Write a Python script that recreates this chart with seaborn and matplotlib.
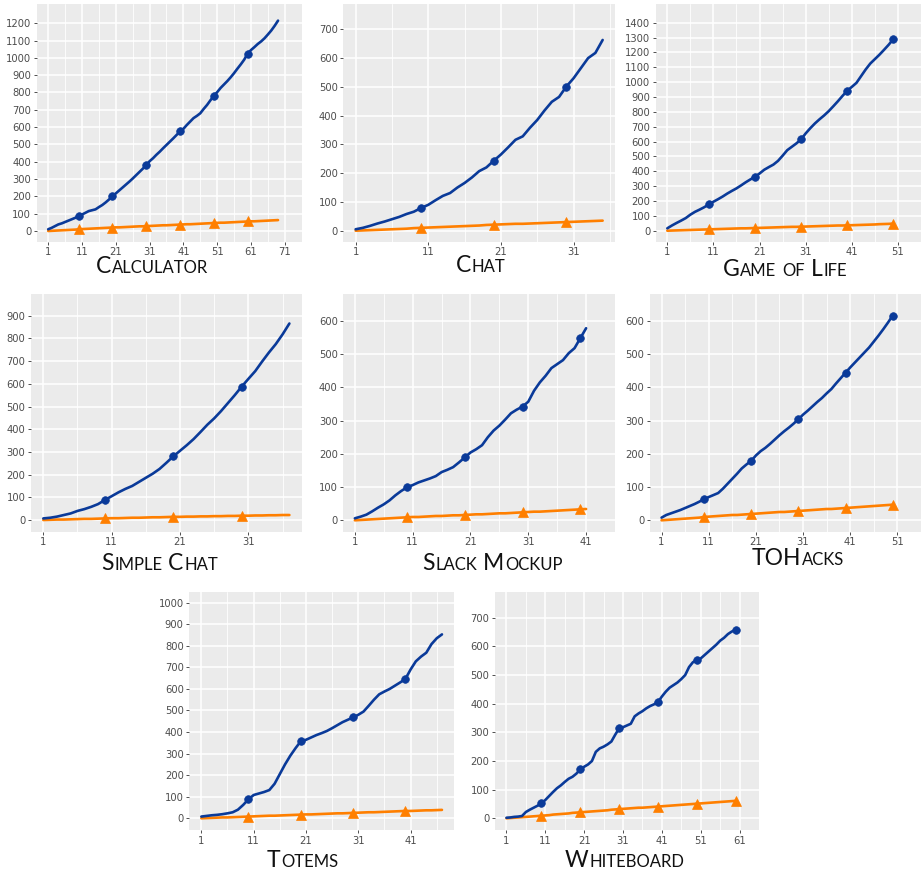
import matplotlib
matplotlib.use("Agg")
import matplotlib.pyplot as plt
import seaborn as sns
import pandas as pd

# ---- data: cumulative counts per step for each project ----
calc_blue = [10, 18, 28, 38, 44, 52, 60, 68, 76, 85,
             95, 105, 115, 120, 125, 138, 150, 165, 182, 200,
             217, 234, 251, 268, 285, 303, 322, 341, 360, 380,
             403, 420, 440, 458, 478, 497, 516, 535, 555, 575,
             590, 612, 632, 652, 665, 680, 705, 728, 755, 780,
             802, 826, 846, 866, 888, 912, 938, 963, 990, 1025,
             1045, 1062, 1080, 1095, 1113, 1135, 1158, 1185, 1215]
calc_orange = [0, 1, 2, 3, 4, 5, 6, 7, 8, 10,
               11, 12, 13, 14, 15, 16, 17, 18, 19, 20,
               21, 21, 22, 23, 24, 25, 26, 27, 27, 28,
               29, 30, 31, 32, 33, 33, 34, 35, 36, 37,
               38, 39, 39, 40, 41, 42, 43, 44, 45, 46,
               47, 48, 48, 49, 50, 51, 52, 53, 54, 55,
               56, 56, 57, 58, 59, 60, 61, 62, 63]

chat_blue = [5, 10, 17, 25, 32, 40, 48, 58, 66, 79,
             90, 106, 121, 131, 150, 166, 185, 207, 220, 243,
             265, 290, 316, 328, 358, 385, 418, 448, 465, 501,
             530, 565, 600, 618, 663]
chat_orange = [0, 1, 2, 3, 4, 5, 6, 7, 9, 10,
               11, 12, 13, 14, 15, 16, 17, 18, 20, 21,
               22, 23, 24, 24, 25, 26, 27, 28, 29, 30,
               31, 32, 33, 34, 35]

life_blue = [16, 35, 52, 68, 85, 108, 127, 142, 158, 177,
             195, 212, 230, 250, 268, 285, 305, 326, 345, 363,
             385, 410, 428, 445, 470, 505, 542, 565, 588, 615,
             655, 690, 722, 750, 776, 805, 838, 872, 908, 942,
             968, 995, 1040, 1085, 1125, 1155, 1185, 1218, 1252, 1290]
life_orange = [0, 1, 2, 3, 4, 5, 6, 7, 8, 9,
               10, 11, 12, 13, 14, 15, 16, 16, 17, 18,
               19, 20, 21, 22, 23, 24, 25, 26, 26, 27,
               28, 29, 30, 31, 32, 33, 34, 35, 35, 36,
               37, 38, 39, 40, 41, 42, 44, 45, 46, 48]

simple_blue = [7, 10, 15, 22, 29, 40, 48, 58, 70, 88,
               105, 122, 137, 150, 168, 186, 204, 225, 252, 280,
               305, 330, 357, 388, 420, 448, 480, 515, 550, 587,
               622, 656, 698, 738, 775, 818, 866]
simple_orange = [0, 1, 2, 2, 3, 4, 5, 5, 6, 7,
                 8, 8, 9, 10, 10, 11, 12, 12, 13, 14,
                 14, 15, 15, 16, 16, 17, 17, 18, 18, 19,
                 19, 20, 20, 21, 21, 22, 22]

slack_blue = [6, 11, 17, 27, 38, 48, 60, 75, 88, 99,
              106, 114, 120, 126, 133, 145, 152, 160, 174, 189,
              204, 214, 226, 250, 270, 285, 303, 322, 333, 342,
              357, 390, 415, 435, 458, 470, 482, 503, 518, 548,
              578]
slack_orange = [0, 1, 2, 3, 4, 5, 6, 7, 8, 9,
                10, 10, 11, 12, 13, 13, 14, 15, 15, 16,
                17, 18, 18, 19, 20, 21, 21, 22, 23, 24,
                25, 26, 26, 27, 28, 29, 30, 31, 32, 33,
                34]

toh_blue = [8, 16, 21, 26, 31, 37, 43, 49, 56, 64,
            70, 76, 82, 95, 110, 125, 140, 156, 168, 179,
            195, 208, 218, 230, 243, 256, 268, 279, 291, 304,
            318, 330, 343, 356, 368, 382, 395, 412, 428, 444,
            460, 475, 490, 505, 520, 538, 556, 575, 595, 616]
toh_orange = [0, 1, 2, 3, 4, 5, 6, 7, 8, 10,
              11, 12, 13, 14, 15, 16, 16, 17, 18, 19,
              20, 21, 22, 23, 24, 25, 25, 26, 27, 28,
              29, 30, 31, 32, 33, 34, 34, 35, 36, 37,
              38, 39, 40, 41, 42, 43, 44, 45, 46, 47]

totems_blue = [8, 11, 14, 16, 19, 23, 28, 40, 62, 88,
               108, 115, 122, 131, 160, 205, 250, 290, 325, 357,
               364, 375, 386, 395, 405, 418, 432, 446, 457, 468,
               480, 495, 522, 550, 575, 588, 600, 615, 630, 646,
               690, 728, 750, 768, 808, 835, 853]
totems_orange = [0, 1, 2, 3, 4, 4, 5, 6, 7, 8,
                 9, 10, 11, 12, 12, 13, 14, 15, 16, 17,
                 18, 18, 19, 20, 21, 22, 23, 23, 24, 25,
                 26, 27, 28, 28, 29, 30, 31, 32, 33, 34,
                 34, 35, 36, 37, 37, 38, 39]

wb_blue = [2, 3, 5, 6, 8, 22, 30, 37, 44, 52,
           64, 78, 92, 105, 115, 127, 138, 145, 156, 171,
           180, 188, 200, 232, 244, 250, 258, 268, 292, 314,
           318, 324, 330, 356, 366, 374, 384, 392, 398, 406,
           425, 442, 456, 465, 474, 486, 500, 528, 545, 552,
           558, 570, 582, 594, 606, 620, 630, 643, 652, 657]
wb_orange = [0, 1, 2, 3, 4, 5, 6, 7, 8, 9,
             10, 11, 13, 14, 15, 16, 17, 19, 20, 21,
             22, 23, 24, 25, 26, 27, 28, 30, 31, 32,
             33, 34, 35, 36, 37, 37, 38, 39, 40, 41,
             42, 43, 44, 45, 46, 47, 48, 49, 50, 51,
             52, 53, 54, 55, 56, 57, 58, 59, 60, 61]

titles = ["Calculator", "Chat", "Game of Life", "Simple Chat",
          "Slack Mockup", "TOHacks", "Totems", "Whiteboard"]
blue_series = [calc_blue, chat_blue, life_blue, simple_blue,
               slack_blue, toh_blue, totems_blue, wb_blue]
orange_series = [calc_orange, chat_orange, life_orange, simple_orange,
                 slack_orange, toh_orange, totems_orange, wb_orange]
x_tick_max = [71, 31, 51, 31, 41, 51, 41, 61]
y_tick_max = [1200, 700, 1400, 900, 600, 600, 1000, 700]

# ---- layout (figure pixels): left, right, top, bottom of each panel ----
W, H = 921, 876
panels = [(36.7, 301.7, 4, 241.7), (343.3, 615, 4, 241.7), (656, 921, 4, 241.7),
          (31, 301.7, 294, 531.7), (343.3, 615, 294, 531.7), (650, 921, 294, 531.7),
          (189.3, 454, 591.7, 830), (495, 759, 591.7, 830)]
ylims = [(-61.8, 1311), (-38.2, 788), (-74, 1526), (-51.5, 996),
         (-34.3, 681), (-34.3, 681), (-54.3, 1051), (-40.8, 791)]
title_pos = [(152, 273.3), (481, 271.7), (785, 276), (160, 570),
             (493, 570), (798, 565), (302.5, 867.3), (624.7, 867.3)]

BLUE = "#0a3a99"
ORANGE = "#ff7f00"

sns.set_theme(style="darkgrid", rc={
    "axes.facecolor": "#EBEBEB",
    "grid.color": "white",
    "grid.linewidth": 1.1,
})
plt.rcParams["font.family"] = ["DejaVu Sans"]

fig = plt.figure(figsize=(W / 100, H / 100), dpi=100)
fig.patch.set_facecolor("white")


def small_caps(fig, text, xc, ybase, big=16.5, small=12.0, family="Lato"):
    renderer = fig.canvas.get_renderer()
    runs = []
    for ch in text:
        if ch == " ":
            runs.append((" ", None))
            continue
        size = big if ch.isupper() else small
        if runs and runs[-1][1] == size:
            runs[-1] = (runs[-1][0] + ch.upper(), size)
        else:
            runs.append((ch.upper(), size))
    items = []
    total = 0.0
    for s, size in runs:
        if size is None:
            w = small * 100 / 72 * 0.3
            items.append((None, w))
        else:
            t = fig.text(0, 1 - ybase / H, s, fontsize=size, family=family,
                         color="#111111", ha="left", va="baseline")
            w = t.get_window_extent(renderer).width + 0.8
            items.append((t, w))
        total += w
    x = xc - total / 2
    for t, w in items:
        if t is not None:
            t.set_x(x / W)
        x += w


for i in range(8):
    l, r, t, b = panels[i]
    ax = fig.add_axes([l / W, 1 - b / H, (r - l) / W, (b - t) / H])
    n = len(blue_series[i])
    df = pd.DataFrame({"step": list(range(1, n + 1)),
                       "blue": blue_series[i],
                       "orange": orange_series[i]})
    marks = list(range(9, n, 10))
    sns.lineplot(data=df, x="step", y="orange", ax=ax, color=ORANGE, lw=1.9,
                 marker="^", markevery=marks, ms=6.5, mec=ORANGE, mew=0.5)
    sns.lineplot(data=df, x="step", y="blue", ax=ax, color=BLUE, lw=1.9,
                 marker="o", markevery=marks, ms=5.5, mec=BLUE, mew=0.5)

    pad = 0.05 * (n - 1)
    ax.set_xlim(1 - pad, n + pad)
    ax.set_ylim(*ylims[i])
    xt = list(range(1, x_tick_max[i] + 1, 10))
    ax.set_xticks(xt)
    ax.set_xticklabels([str(v) for v in xt])
    ax.set_xticks([v + 5 for v in xt], minor=True)
    yt = list(range(0, y_tick_max[i] + 1, 100))
    ax.set_yticks(yt)
    ax.set_yticklabels([str(v) for v in yt])
    ax.grid(True, which="major", color="white", lw=1.1)
    ax.grid(True, which="minor", axis="x", color="white", lw=0.6)
    ax.tick_params(axis="both", which="major", bottom=True, left=True,
                   length=2.5, width=0.6, color="#333333",
                   labelsize=7.2, labelcolor="#4D4D4D", pad=1.5)
    ax.tick_params(axis="both", which="minor", length=0)
    for s in ax.spines.values():
        s.set_visible(False)
    ax.set_xlabel("")
    ax.set_ylabel("")
    small_caps(fig, titles[i], *title_pos[i])

fig.savefig("out.png", dpi=100, facecolor="white")
